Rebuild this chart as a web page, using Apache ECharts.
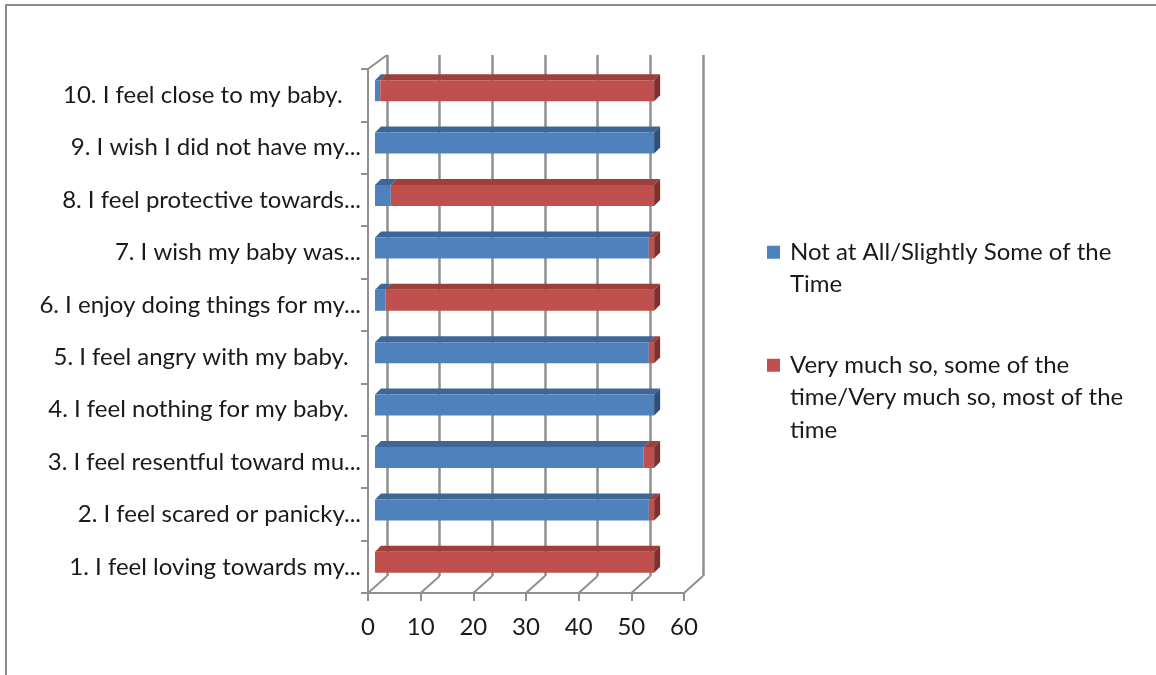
<!DOCTYPE html>
<html>
<head>
<meta charset="utf-8">
<script src="https://cdn.jsdelivr.net/npm/echarts@6/dist/echarts.min.js"></script>
<style>
  html, body { margin: 0; padding: 0; background: #fff; }
  #chart { width: 1156px; height: 675px; }
</style>
</head>
<body>
<div id="chart"></div>
<script>
// Survey items, bottom to top
const categories = [
  '1. I feel loving towards my...',
  '2. I feel scared or panicky...',
  '3. I feel resentful toward mu...',
  '4. I feel nothing for my baby.  ',
  '5. I feel angry with my baby.  ',
  '6. I enjoy doing things for my...',
  '7. I wish my baby was...',
  '8. I feel protective towards...',
  '9. I wish I did not have my...',
  '10. I feel close to my baby.   '
];
const seriesNames = [
  'Not at All/Slightly Some of the Time',
  'Very much so, some of the time/Very much so, most of the time'
];
const notAtAll = [0, 52, 51, 53, 52, 2, 52, 3, 53, 1];
const veryMuch = [53, 1, 2, 0, 1, 51, 1, 50, 0, 52];
const xTicks = [0, 10, 20, 30, 40, 50, 60];

const FONT = 'Lato, "Open Sans", sans-serif';
const FONT_SIZE = 24;
const TEXT_COLOR = '#1a1a1a';
const GRID_LINE = '#8f8f8f';

// Face colours for each series: front, top, right end
const palette = [
  { front: '#4f81bd', top: '#3d6799', side: '#2d4f78' },
  { front: '#c0504d', top: '#9e3f3c', side: '#7e302e' }
];

// Bar placement inside the 3D box
const BAR_H = 21;      // front face height
const OFF_X = 7;       // front face shift from the front plane
const OFF_Y = -4.5;
const DEPTH_X = 6;     // bar depth projected
const DEPTH_Y = -6;

// Stack base for every segment
const stacks = [notAtAll, veryMuch];
function baseOf(s, i) {
  let b = 0;
  for (let k = 0; k < s; k++) b += stacks[k][i];
  return b;
}

function barRenderer(sIdx) {
  return function (params, api) {
    const i = params.dataIndex;
    const v = api.value(1);
    if (!v) return { type: 'group', children: [] };
    const b = baseOf(sIdx, i);
    const p0 = api.coord([b, i]);
    const p1 = api.coord([b + v, i]);
    const x0 = p0[0] + OFF_X, x1 = p1[0] + OFF_X;
    const yc = p0[1] + OFF_Y;
    const yt = yc - BAR_H / 2, yb = yc + BAR_H / 2;
    const c = palette[sIdx];
    // the right end is only visible when nothing is stacked after it
    let after = 0;
    for (let k = sIdx + 1; k < stacks.length; k++) after += stacks[k][i];
    const children = [
      {
        type: 'polygon',
        shape: { points: [[x0, yt], [x0 + DEPTH_X, yt + DEPTH_Y], [x1 + DEPTH_X, yt + DEPTH_Y], [x1, yt]] },
        style: { fill: c.top }
      },
      {
        type: 'rect',
        shape: { x: x0, y: yt, width: x1 - x0, height: BAR_H },
        style: { fill: c.front }
      }
    ];
    if (!after) {
      children.push({
        type: 'polygon',
        shape: { points: [[x1, yt], [x1 + DEPTH_X, yt + DEPTH_Y], [x1 + DEPTH_X, yb + DEPTH_Y], [x1, yb]] },
        style: { fill: c.side }
      });
    }
    return { type: 'group', children: children };
  };
}

// Box depth between the front plane and the back wall
const WALL_DX = 19;
const WALL_DY_BOTTOM = -17;
const WALL_DY_TOP = -14;

function floorRenderer(params, api) {
  const cs = params.coordSys;
  const v = api.value(0);
  const x = api.coord([v, 0])[0];
  const yb = cs.y + cs.height;
  const children = [{
    type: 'line',
    shape: { x1: x, y1: yb, x2: x + WALL_DX, y2: yb + WALL_DY_BOTTOM },
    style: { stroke: GRID_LINE, lineWidth: 2 }
  }];
  if (params.dataIndex === 0) {
    children.push({
      type: 'line',
      shape: { x1: x, y1: cs.y, x2: x + WALL_DX, y2: cs.y + WALL_DY_TOP },
      style: { stroke: GRID_LINE, lineWidth: 2 }
    });
  }
  return { type: 'group', children: children };
}

const legendText = {};
legendText[seriesNames[0]] = '{sq0|}{gap|}Not at All/Slightly Some of the\n{pad|}Time';
legendText[seriesNames[1]] = '{sq1|}{gap|}Very much so, some of the\n{pad|}time/Very much so, most of the\n{pad|}time';

const chart = echarts.init(document.getElementById('chart'), null, { renderer: 'canvas' });

chart.setOption({
  backgroundColor: '#ffffff',
  animation: false,
  graphic: [{
    type: 'rect',
    shape: { x: 6, y: 5, width: 1200, height: 720 },
    style: { fill: 'none', stroke: '#8a8a8a', lineWidth: 2 },
    silent: true,
    z: 100
  }],
  legend: {
    orient: 'vertical',
    left: 762,
    top: 236,
    padding: 0,
    itemWidth: 0,
    itemHeight: 0,
    itemGap: 48,
    icon: 'rect',
    selectedMode: false,
    data: seriesNames,
    formatter: function (name) { return legendText[name]; },
    textStyle: {
      fontFamily: FONT,
      fontSize: FONT_SIZE,
      color: TEXT_COLOR,
      lineHeight: 32.5,
      padding: 0,
      rich: {
        sq0: { width: 13, height: 13, backgroundColor: palette[0].front },
        sq1: { width: 13, height: 13, backgroundColor: palette[1].front },
        gap: { width: 10 },
        pad: { width: 23 }
      }
    }
  },
  grid: [
    // front plane
    { left: 368, top: 69, width: 316, height: 524, containLabel: false },
    // back wall
    { left: 387, top: 55, width: 316, height: 521, containLabel: false }
  ],
  xAxis: [
    {
      gridIndex: 0, type: 'value', min: 0, max: 60, interval: 10,
      axisLine: { show: true, lineStyle: { color: GRID_LINE, width: 2 } },
      axisTick: { show: true, length: 8, lineStyle: { color: GRID_LINE, width: 2 } },
      axisLabel: { fontFamily: FONT, fontSize: FONT_SIZE, color: TEXT_COLOR, margin: 22 },
      splitLine: { show: false }
    },
    {
      gridIndex: 1, type: 'value', min: 0, max: 60, interval: 10,
      axisLine: { show: false }, axisTick: { show: false }, axisLabel: { show: false },
      splitLine: { show: true, lineStyle: { color: GRID_LINE, width: 2.5 } }
    }
  ],
  yAxis: [
    {
      gridIndex: 0, type: 'category', data: categories,
      axisLine: { show: true, lineStyle: { color: GRID_LINE, width: 2 } },
      axisTick: { show: true, length: 7, lineStyle: { color: GRID_LINE, width: 2 } },
      axisLabel: { fontFamily: FONT, fontSize: FONT_SIZE, color: TEXT_COLOR, margin: 7 },
      splitLine: { show: false }
    },
    {
      gridIndex: 1, type: 'category', data: categories, show: false
    }
  ],
  series: [
    {
      type: 'custom', name: 'floor', xAxisIndex: 0, yAxisIndex: 0,
      renderItem: floorRenderer, silent: true, z: 1,
      data: xTicks.map(function (t) { return [t]; })
    },
    {
      type: 'custom', name: seriesNames[0], xAxisIndex: 0, yAxisIndex: 0,
      renderItem: barRenderer(0), z: 3,
      itemStyle: { color: palette[0].front },
      encode: { x: 1, y: 0 },
      data: notAtAll.map(function (v, i) { return [i, v]; })
    },
    {
      type: 'custom', name: seriesNames[1], xAxisIndex: 0, yAxisIndex: 0,
      renderItem: barRenderer(1), z: 4,
      itemStyle: { color: palette[1].front },
      encode: { x: 1, y: 0 },
      data: veryMuch.map(function (v, i) { return [i, v]; })
    }
  ]
});
</script>
</body>
</html>
